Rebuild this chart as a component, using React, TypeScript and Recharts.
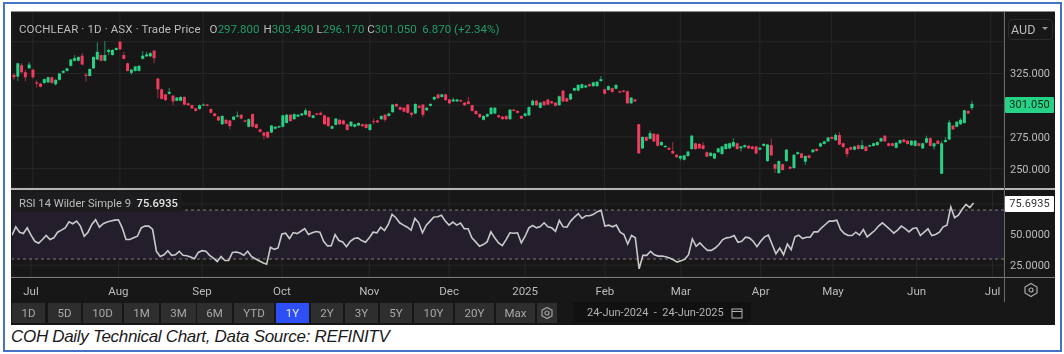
import { Bar, CartesianGrid, ComposedChart, Line, ReferenceArea, ReferenceLine, XAxis, YAxis } from 'recharts'

const opens = [
  324, 322.5, 331.5, 326, 329, 328, 318, 317, 317.5, 318,
  322, 316.5, 320, 325.5, 327, 331, 335, 335, 339, 324,
  323, 329, 336, 339.5, 335, 342, 339.5, 343.5, 350, 339.5,
  333, 325.5, 327, 327, 336.5, 338.5, 338.5, 343, 321, 312.5,
  308.5, 309, 307.5, 303.5, 303.5, 306.5, 301.5, 300, 297.5, 297,
  300, 300.5, 297, 293.5, 291, 285, 288.5, 288, 288.5, 291,
  292.5, 288, 283, 293, 285, 281, 278.5, 279, 278.5, 281.5,
  282.5, 283, 286, 292.5, 289, 291, 292, 292.5, 295.5, 290,
  293.5, 294, 292, 290.5, 281.5, 284.5, 288.5, 288, 285, 283.5,
  283, 284, 285, 285, 280.5, 287.5, 288, 289, 292.5, 291.5,
  294.5, 301, 298.5, 298, 300.5, 294, 293.5, 299.5, 300.5, 296,
  299.5, 304.5, 308.5, 306.5, 308.5, 304.5, 303, 303, 304, 302,
  303, 300, 295.5, 293, 288.5, 291, 293, 293.5, 292, 291,
  291.5, 289, 296.5, 295.5, 291.5, 291.5, 292, 300, 303.5, 298,
  303, 304.5, 303, 302, 300, 311.5, 305.5, 304.5, 311.5, 311.5,
  313.5, 314, 316.5, 315, 315, 319, 312.5, 312, 313.5, 313,
  311, 311.5, 311, 301.5, 304.5, 285, 266, 275, 273.5, 277.5,
  277, 268.5, 267, 266.5, 264, 261, 258, 257, 260, 265.5,
  270, 269.5, 268.5, 263, 260, 258, 263, 261.5, 265.5, 266,
  267.5, 270, 266, 267, 268, 267.5, 267.5, 265, 268, 256,
  268.5, 253.5, 246.5, 253.5, 256, 251.5, 250.5, 261.5, 262, 255.5,
  260.5, 263, 265.5, 267.5, 269.5, 271.5, 275, 272.5, 276.5, 270,
  266, 267, 265, 268.5, 265.5, 267.5, 267.5, 268, 268.5, 271.5,
  276, 270, 270, 266.5, 270, 273, 272, 268.5, 268, 270,
  266, 270.5, 274, 267.5, 272, 246, 271, 273, 284, 283,
  285, 286, 295.5, 297.8,
]

const closes = [
  322, 333, 326, 322, 332, 322, 317, 314.5, 320.5, 322,
  317.5, 320, 325, 327, 329, 336, 337, 338, 332, 323,
  328.5, 338, 342, 335, 339.5, 343.5, 343.5, 345, 344, 336.5,
  327, 328, 330.5, 331, 339, 340, 341, 337, 312.5, 305,
  304, 310.5, 303, 306, 306.5, 300.5, 300, 297.5, 295.5, 300,
  300.5, 299.5, 294, 291.5, 288, 291.5, 285.5, 283.5, 291, 292,
  289.5, 287, 289, 283, 282, 279, 276, 274.5, 284, 283,
  283.5, 292, 292.5, 287.5, 293, 292.5, 293.5, 296, 291, 292,
  292.5, 292.5, 285, 283.5, 283.5, 289.5, 285, 285, 280.5, 287,
  285, 286, 283.5, 282, 285, 287, 286.5, 291.5, 288.5, 293.5,
  300.5, 299, 296.5, 295, 294, 292.5, 301, 298, 292.5, 298,
  301, 306.5, 305.5, 308.5, 304, 301.5, 304.5, 304.5, 303, 300,
  301, 295.5, 293, 290.5, 291.5, 293, 298, 298, 290.5, 289,
  289, 296.5, 295.5, 294, 289.5, 293.5, 298.5, 303.5, 300, 302,
  300, 300.5, 301.5, 299.5, 307, 303, 303, 309, 313.5, 316,
  316.5, 315.5, 315, 318, 318.5, 320.5, 309, 315, 310.5, 316,
  310, 310.5, 301.5, 306, 303, 262, 275, 272, 278, 271.5,
  268, 271, 268, 265, 262, 259, 260, 260.5, 263.5, 276,
  265.5, 266, 265.5, 259.5, 262.5, 262, 266, 267.5, 269.5, 270,
  271, 265.5, 267.5, 268.5, 266, 265.5, 262, 266.5, 269.5, 269,
  260.5, 250, 256, 249, 265, 250, 261, 263, 258.5, 260,
  258.5, 265, 264, 270, 271.5, 274.5, 273.5, 276.5, 269, 267,
  261.5, 265, 267.5, 265.5, 268.5, 264, 268.5, 270, 271, 274,
  271.5, 268, 268, 270.5, 272.5, 271, 269.5, 272, 272, 268,
  270, 274, 268, 270, 269.5, 270, 272.5, 286.5, 281, 287,
  288.5, 296, 293.5, 301.05,
]

const highs = [
  325, 333.5, 333, 328, 334, 328.5, 319.5, 317.5, 321, 322.5,
  322.5, 320.5, 325.5, 327.5, 329.5, 336.5, 339.5, 338.5, 341, 325.5,
  329, 338.5, 349.5, 340, 350.5, 344.5, 344, 345.5, 350.5, 342,
  333.5, 328.5, 331, 331.5, 342.5, 342, 342, 343.5, 321.5, 313,
  309, 313.5, 308, 306.5, 307, 307, 302, 300.5, 298, 300.5,
  301.5, 301, 297.5, 294, 291.5, 292, 289, 288.5, 291.5, 295,
  293, 288.5, 289.5, 293.5, 285.5, 281.5, 279, 279.5, 284.5, 283.5,
  284, 292.5, 293, 293, 293.5, 293, 294, 297.5, 296, 292.5,
  294, 295, 292.5, 291, 284, 290, 289, 288.5, 285.5, 287.5,
  285.5, 286.5, 285.5, 285.5, 285.5, 289.5, 288.5, 292, 293, 294,
  301, 301.5, 299, 298.5, 301, 294.5, 301.5, 300, 301, 298.5,
  301.5, 307, 309, 309, 309, 305, 306, 305, 304.5, 302.5,
  306.5, 300.5, 296, 293.5, 292, 293.5, 298.5, 298.5, 292.5, 291.5,
  292, 297, 297, 296, 292, 294, 299, 304.5, 304, 302.5,
  303.5, 305, 303.5, 302.5, 307.5, 312, 306, 309.5, 314, 316.5,
  317, 316, 317, 318.5, 319, 323, 313, 315.5, 314, 316.5,
  311.5, 312, 311.5, 306.5, 305, 285, 275.5, 275.5, 280, 278,
  277.5, 271.5, 268.5, 267, 271, 261.5, 260.5, 261, 264, 276.5,
  270.5, 270, 271, 263.5, 263, 262.5, 266.5, 268, 270, 270.5,
  274, 270.5, 268, 269, 268.5, 268, 268, 267, 270, 269.5,
  273.5, 254, 256.5, 254, 265.5, 252, 261.5, 263.5, 262.5, 260.5,
  261, 265.5, 266, 270.5, 272, 275, 275.5, 278, 279, 270.5,
  266.5, 267.5, 268, 269, 272.5, 268, 269, 270.5, 271.5, 274.5,
  276.5, 270.5, 270.5, 271, 273, 273.5, 272.5, 272.5, 272.5, 270.5,
  270.5, 276, 275, 270.5, 272.5, 272, 275, 288.5, 284.5, 287.5,
  290, 296.5, 296, 303.49,
]

const lows = [
  320, 319, 325, 319, 329, 321, 314, 314, 317, 317.5,
  317, 315.5, 319.5, 325, 326.5, 330.5, 334.5, 334.5, 331.5, 318.5,
  322.5, 328.5, 335.5, 334.5, 334.5, 339.5, 339, 343, 343.5, 336,
  326.5, 324, 326.5, 326.5, 336, 338, 338, 333, 305.5, 304.5,
  303.5, 308.5, 300, 303, 303, 300, 299.5, 297, 295, 296.5,
  299.5, 299, 293.5, 291, 287.5, 284.5, 285, 281, 288, 290.5,
  289, 286.5, 282.5, 282.5, 281.5, 278.5, 273, 274, 278, 281,
  282, 282.5, 285.5, 287, 288.5, 290.5, 291.5, 292, 290.5, 289.5,
  292, 292, 284.5, 283, 281, 284, 284.5, 284.5, 280, 283,
  282.5, 283.5, 283, 281.5, 280, 285, 286, 288.5, 287, 291,
  294, 298.5, 296, 294.5, 293.5, 290.5, 293, 297.5, 290.5, 295.5,
  299, 304, 305, 306, 303.5, 301, 302.5, 302.5, 302.5, 299.5,
  300.5, 295, 292.5, 290, 288, 290.5, 292.5, 293, 290, 288.5,
  288.5, 288.5, 295, 293.5, 289, 291, 291.5, 299.5, 299.5, 297.5,
  299.5, 300, 301, 299, 299.5, 302.5, 302.5, 304, 311, 311,
  313, 313.5, 314.5, 314.5, 314.5, 318.5, 308.5, 311.5, 310, 312.5,
  309.5, 310, 301, 301, 302.5, 262, 265.5, 271.5, 273, 271,
  267.5, 268, 266.5, 264.5, 261.5, 258.5, 256.5, 256.5, 259.5, 265,
  265, 265.5, 265, 259, 259.5, 257.5, 262.5, 261, 265, 265.5,
  267, 265, 263.5, 266.5, 265.5, 265, 261.5, 264.5, 267.5, 255.5,
  260, 246.5, 246, 248.5, 255.5, 249.5, 250, 261, 258, 253,
  258, 262.5, 263.5, 267, 269, 271, 273, 272, 268.5, 266.5,
  259, 264.5, 264.5, 265, 265, 263.5, 267, 267.5, 268, 271,
  271, 267.5, 267.5, 266, 269.5, 270.5, 269, 268, 267.5, 267.5,
  265.5, 270, 267.5, 265, 269, 246, 270.5, 272.5, 280.5, 282.5,
  284.5, 285.5, 293, 296.17,
]

const rsiValues = [
  49.5, 56.3, 51.9, 50.8, 55.5, 49.5, 44.5, 42.9, 45.9, 49.2,
  45.9, 47.3, 51.9, 53.6, 55.5, 60.4, 58.8, 61, 56.9, 48.6,
  51.9, 58.2, 62.1, 56, 58.8, 60.2, 61, 61.8, 62.1, 55.5,
  45.9, 45.9, 47.3, 48.6, 55.5, 56.9, 56.9, 54.1, 36.3, 32.1,
  33.5, 36.8, 33, 33.5, 36.3, 33, 32.7, 31.6, 30.2, 35.4,
  36.8, 36.3, 33, 30.8, 28, 32.1, 28.8, 28.8, 35.4, 35.7,
  34.9, 33, 36.3, 32.1, 30.2, 28.6, 26.9, 25.8, 39.6, 37.9,
  39, 50.5, 51.1, 46.7, 51.6, 50.8, 52.7, 54.9, 50, 51.4,
  52.5, 51.9, 44.5, 40.7, 40.9, 50, 45.1, 44, 40.1, 44.5,
  46.7, 47.3, 45.1, 43.7, 47.3, 51.9, 51.4, 56, 53.3, 58.2,
  66.5, 63.7, 59.6, 57.7, 56, 53.6, 63.2, 59.6, 51.4, 57.7,
  61, 64.3, 64.6, 65.7, 61, 57.7, 60.2, 57.7, 59.3, 54.7,
  54.7, 47.3, 44, 40.4, 41.8, 44, 52.2, 47.3, 43.1, 40.9,
  45.9, 51.4, 51.1, 51.4, 43.1, 48.6, 55.5, 57.4, 55.5, 56.6,
  59.6, 56.3, 55.5, 52.7, 61.5, 56.3, 56, 61, 64.3, 67,
  63.2, 65.4, 65.4, 66.5, 68.7, 69.8, 56.9, 57.7, 56.3, 57.7,
  51.9, 50, 42.3, 49.2, 47.3, 22, 33, 33, 36.3, 33.5,
  32.4, 32.4, 31.9, 30.8, 29.4, 27.5, 28.6, 29.7, 33.5, 46.4,
  40.4, 43.1, 39.8, 37.1, 37.1, 39, 41.8, 45.9, 47.3, 47.8,
  49.2, 43.7, 44.5, 47.8, 47.3, 44.5, 40.1, 44.5, 48.1, 49.5,
  41.8, 34.3, 39, 33.5, 42.3, 37.6, 48.1, 49.5, 46.7, 47.8,
  47.8, 52.2, 52.2, 55.5, 58.2, 61, 61, 61.8, 54.1, 50.8,
  49.2, 49.2, 51.9, 49.5, 54.1, 48.1, 50.8, 53.3, 56.9, 59.6,
  56.9, 54.1, 51.1, 53.6, 56.9, 54.9, 52.2, 54.9, 55.5, 49.2,
  51.9, 54.7, 49.2, 50, 51.9, 56.3, 57.7, 72.5, 63.7, 65.9,
  70.6, 74.7, 72, 75.6935,
]

const monthTicks = [5, 28, 50, 71, 94, 115, 135, 156, 176, 197, 216, 238, 258]
const monthLabels = ['Jul', 'Aug', 'Sep', 'Oct', 'Nov', 'Dec', '2025', 'Feb', 'Mar', 'Apr', 'May', 'Jun', 'Jul']
const priceTicks = [250, 275, 300, 325, 350]
const hiddenPriceTicks = [300, 350] // 300 sits under the last-price tag, 350 under the currency box
const rsiTicks = [25, 50, 75]
const rangeButtons = ['1D', '5D', '10D', '1M', '3M', '6M', 'YTD', '1Y', '2Y', '3Y', '5Y', '10Y', '20Y', 'Max']
const buttonLefts = [12, 48, 83, 124, 161, 197, 234, 276, 311, 345, 380, 414, 455, 496]
const buttonWidths = [33, 33, 39, 35, 35, 35, 40, 33, 32, 33, 32, 39, 39, 39]

const SLOTS = 262 // empty days to the right of the last candle
const UI_FONT = 'Roboto, "Liberation Sans", sans-serif'
const GREEN = '#26d285'
const RED = '#f23c5f'
const GRID = '#272727'
const TEXT = '#bcbcbc'
const UP_TEXT = '#1f9d68'

const rows = Array.from({ length: SLOTS }, (_, i) =>
  i < opens.length
    ? { idx: i, open: opens[i], close: closes[i], high: highs[i], low: lows[i], range: [lows[i], highs[i]], rsi: rsiValues[i] }
    : { idx: i, range: null, rsi: null },
)

// wick and body out of one Bar: the bar spans low..high, body is worked out from that
function Candle(props: any) {
  const { x, y, width, height, payload } = props
  if (!payload || payload.range == null) return null
  const { open, close, high, low } = payload
  const color = close >= open ? GREEN : RED
  const perUnit = height / (high - low)
  const top = y + (high - Math.max(open, close)) * perUnit
  const bodyH = Math.max(Math.abs(open - close) * perUnit, 1)
  const cx = x + width / 2
  return (
    <g>
      <line x1={cx} x2={cx} y1={y} y2={y + height} stroke={color} strokeOpacity={0.65} strokeWidth={1} />
      <rect x={cx - 1.5} y={top} width={3} height={bodyH} fill={color} />
    </g>
  )
}

function Tag({ left, top, width, height, bg, color, children }: any) {
  return (
    <div style={{ position: 'absolute', left, top, width, height, background: bg, color, fontSize: 11, lineHeight: `${height}px`, textAlign: 'center', borderRadius: 1, letterSpacing: 0.1 }}>
      {children}
    </div>
  )
}

function PriceChart() {
  return (
    <ComposedChart width={1043} height={176} data={rows} margin={{ top: 0, right: 0, bottom: 0, left: 0 }} barCategoryGap={0}>
      <CartesianGrid stroke={GRID} strokeWidth={1} />
      <XAxis dataKey="idx" hide ticks={monthTicks} interval={0} />
      <YAxis
        orientation="right"
        width={51}
        domain={[234.8, 373.4]}
        ticks={priceTicks}
        interval={0}
        axisLine={false}
        tickLine={false}
        tickMargin={0}
        tick={{ fill: TEXT, fontSize: 11, fontFamily: UI_FONT }}
        tickFormatter={(v: number) => (hiddenPriceTicks.includes(v) ? '' : v.toFixed(3))}
      />
      <Bar dataKey="range" shape={Candle} isAnimationActive={false} />
    </ComposedChart>
  )
}

function RsiChart() {
  return (
    <ComposedChart width={1043} height={112} data={rows} margin={{ top: 0, right: 0, bottom: 0, left: 0 }}>
      <ReferenceArea y1={30} y2={70} fill="#241e2c" fillOpacity={1} stroke="none" />
      <CartesianGrid stroke={GRID} strokeWidth={1} />
      <ReferenceLine y={70} stroke="#7c7c7c" strokeDasharray="3 3" />
      <ReferenceLine y={30} stroke="#7c7c7c" strokeDasharray="3 3" />
      <XAxis
        dataKey="idx"
        height={25}
        ticks={monthTicks}
        interval={0}
        axisLine={false}
        tickLine={false}
        tickMargin={4}
        tick={{ fill: TEXT, fontSize: 11.5, fontFamily: UI_FONT }}
        tickFormatter={(v: number) => monthLabels[monthTicks.indexOf(v)]}
      />
      <YAxis
        orientation="right"
        width={51}
        domain={[15.3, 86.4]}
        ticks={rsiTicks}
        interval={0}
        axisLine={false}
        tickLine={false}
        tickMargin={0}
        tick={{ fill: TEXT, fontSize: 11, fontFamily: UI_FONT }}
        tickFormatter={(v: number) => (v === 75 ? '' : v.toFixed(4))}
      />
      <Line dataKey="rsi" stroke="#c9c9c9" strokeWidth={1.6} dot={false} isAnimationActive={false} />
    </ComposedChart>
  )
}

function App() {
  return (
    <div style={{ position: 'absolute', left: 0, top: 0, width: 1064, height: 354, background: '#fff', overflow: 'hidden', fontFamily: UI_FONT }}>
      <div style={{ position: 'absolute', left: 3, top: 2, width: 1055, height: 346, border: '2px solid #4472c4' }} />

      <div style={{ position: 'absolute', left: 11, top: 11, width: 1044, height: 314, background: '#171717', filter: 'blur(0.45px)' }}>
        <div style={{ position: 'absolute', left: 1, top: 1 }}>
          <PriceChart />
        </div>
        <div style={{ position: 'absolute', left: 1, top: 179 }}>
          <RsiChart />
        </div>

        {/* panel separators */}
        <div style={{ position: 'absolute', left: 0, top: 0, width: 1044, height: 1, background: '#8a8a8a' }} />
        <div style={{ position: 'absolute', left: 0, top: 177, width: 1044, height: 2, background: '#b5b5b5' }} />
        <div style={{ position: 'absolute', left: 0, top: 266, width: 1044, height: 1, background: '#7a7a7a' }} />
        <div style={{ position: 'absolute', left: 993, top: 1, width: 1, height: 290, background: '#6a6a6a' }} />

        {/* legends */}
        <div style={{ position: 'absolute', left: 8, top: 11, fontSize: 11.5, color: TEXT, whiteSpace: 'pre' }}>
          <span style={{ letterSpacing: 0.12 }}>{'COCHLEAR · 1D · ASX · Trade Price   O'}</span>
          <span style={{ color: UP_TEXT }}>297.800</span>
          <span style={{ marginLeft: 4 }}>H</span>
          <span style={{ color: UP_TEXT }}>303.490</span>
          <span style={{ marginLeft: 3 }}>L</span>
          <span style={{ color: UP_TEXT }}>296.170</span>
          {' C'}
          <span style={{ color: UP_TEXT }}>301.050</span>
          <span style={{ color: UP_TEXT }}>{'  6.870 (+2.34%)'}</span>
        </div>
        <div style={{ position: 'absolute', left: 0, top: 181, width: 171, height: 20, background: '#1c1c1e' }} />
        <div style={{ position: 'absolute', left: 8, top: 186, fontSize: 11.2, color: TEXT, whiteSpace: 'pre' }}>
          {'RSI 14 Wilder Simple 9  '}
          <span style={{ color: '#e6e6e6', fontWeight: 500 }}>75.6935</span>
        </div>

        {/* right axis widgets */}
        <div style={{ position: 'absolute', left: 997, top: 8, width: 45, height: 21, boxSizing: 'border-box', border: '1px solid #2c2c2c', borderRadius: 4, color: TEXT, fontSize: 12.5, lineHeight: '19px', paddingLeft: 2 }}>
          AUD
          <span style={{ position: 'absolute', right: 4, top: 7, borderLeft: '3px solid transparent', borderRight: '3px solid transparent', borderTop: '3px solid #999' }} />
        </div>
        <Tag left={994} top={86} width={49} height={16} bg={GREEN} color="#11251c">301.050</Tag>
        <Tag left={994} top={185} width={49} height={16} bg="#fff" color="#333">75.6935</Tag>
        <svg style={{ position: 'absolute', left: 1012, top: 271 }} width={16} height={16} viewBox="0 0 16 16">
          <path d="M8 1.5 L14 5 L14 11 L8 14.5 L2 11 L2 5 Z" fill="none" stroke="#aaa" strokeWidth={1.2} />
          <circle cx={8} cy={8} r={2} fill="none" stroke="#aaa" strokeWidth={1.2} />
        </svg>

        {/* range buttons */}
        {rangeButtons.map((b, i) => (
          <div
            key={b}
            style={{
              position: 'absolute',
              left: buttonLefts[i] - 11,
              top: 292,
              width: buttonWidths[i],
              height: 20,
              background: b === '1Y' ? '#2d4ff5' : '#2e2e2e',
              color: b === '1Y' ? '#e8ecff' : '#a9a9a9',
              fontSize: 11.5,
              lineHeight: '20px',
              textAlign: 'center',
            }}
          >
            {b}
          </div>
        ))}
        <div style={{ position: 'absolute', left: 526, top: 292, width: 20, height: 20, background: '#2e2e2e' }}>
          <svg width={20} height={20} viewBox="0 0 20 20">
            <path d="M10 4.5 L15 7.2 L15 12.8 L10 15.5 L5 12.8 L5 7.2 Z" fill="none" stroke="#a0a0a0" strokeWidth={1.2} />
            <circle cx={10} cy={10} r={2} fill="none" stroke="#a0a0a0" strokeWidth={1.2} />
          </svg>
        </div>
        <div style={{ position: 'absolute', left: 562, top: 291, width: 178, height: 21, background: '#111', color: '#b4b4b4', fontSize: 11, lineHeight: '21px', whiteSpace: 'pre', paddingLeft: 14, boxSizing: 'border-box' }}>
          {'24-Jun-2024  -  24-Jun-2025'}
          <svg style={{ position: 'absolute', right: 8, top: 5 }} width={12} height={12} viewBox="0 0 12 12">
            <rect x={1} y={2} width={10} height={9} fill="none" stroke="#b4b4b4" strokeWidth={1} />
            <line x1={1} x2={11} y1={4.5} y2={4.5} stroke="#b4b4b4" strokeWidth={1} />
          </svg>
        </div>
      </div>

      <div style={{ position: 'absolute', left: 11, top: 327, fontFamily: '"Liberation Sans", sans-serif', fontStyle: 'italic', fontSize: 17, letterSpacing: -0.31, color: '#1a1a1a', whiteSpace: 'pre' }}>
        COH Daily Technical Chart, Data Source: REFINITV
      </div>
    </div>
  )
}

export default App
